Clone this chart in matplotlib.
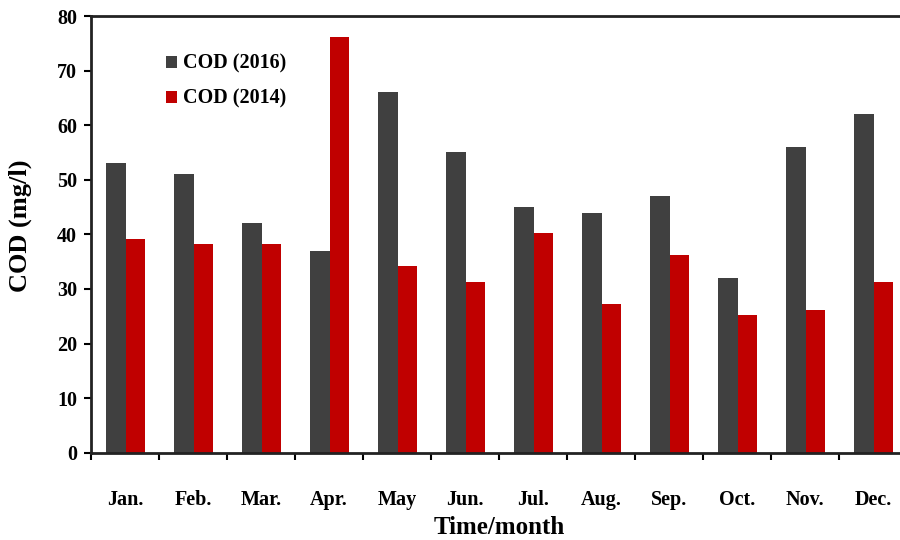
import numpy as np
import matplotlib
matplotlib.use('Agg')
import matplotlib.pyplot as plt

months = ['Jan.', 'Feb.', 'Mar.', 'Apr.', 'May', 'Jun.', 'Jul.', 'Aug.', 'Sep.', 'Oct.', 'Nov.', 'Dec.']
cod_2016 = [53, 51, 42, 37, 66, 55, 45, 44, 47, 32, 56, 62]
cod_2014 = [39.1, 38.3, 38.3, 76.1, 34.2, 31.2, 40.2, 27.2, 36.2, 25.3, 26.1, 31.2]

plt.rcParams['font.family'] = ['Liberation Serif', 'DejaVu Serif']
plt.rcParams['font.weight'] = 'bold'

fig = plt.figure(figsize=(9, 5.4), dpi=100)
# plot area runs past the right edge of the picture, as in the source
ax = fig.add_axes([91/900, 1 - 452.7/540, 816/900, (452.7 - 16)/540])

x = np.arange(len(months))
w = 0.285
ax.bar(x - w/2 + 0.01, cod_2016, w, color='#404040', label='COD (2016)')
ax.bar(x + w/2 + 0.01, cod_2014, w, color='#C00000', label='COD (2014)')

ax.set_xlim(-0.5, len(months) - 0.5)
ax.set_ylim(0, 80)
ax.set_yticks(range(0, 81, 10))
ax.set_xticks(x)
ax.set_xticklabels(months)
ax.set_xticks(np.arange(-0.5, len(months), 1), minor=True)
ax.tick_params(axis='x', which='major', length=0, pad=27, labelsize=14.5)
ax.tick_params(axis='x', which='minor', length=5, width=1.5, direction='out')
ax.tick_params(axis='y', length=5, width=1.5, direction='out', labelsize=14.5, pad=5)
for s in ax.spines.values():
    s.set_linewidth(2)
    s.set_color('#222222')

ax.set_ylabel('COD (mg/l)', fontsize=19, fontweight='bold')
ax.yaxis.set_label_coords(-0.072, 0.52)
ax.set_xlabel('Time/month', fontsize=18, fontweight='bold', labelpad=4)

ax.legend(loc='upper left', bbox_to_anchor=(0.07, 0.955), frameon=False,
          prop={'size': 14.5, 'weight': 'bold'}, handlelength=0.55, handleheight=0.55,
          handletextpad=0.3, labelspacing=0.75)

fig.savefig('out.png', dpi=100)
